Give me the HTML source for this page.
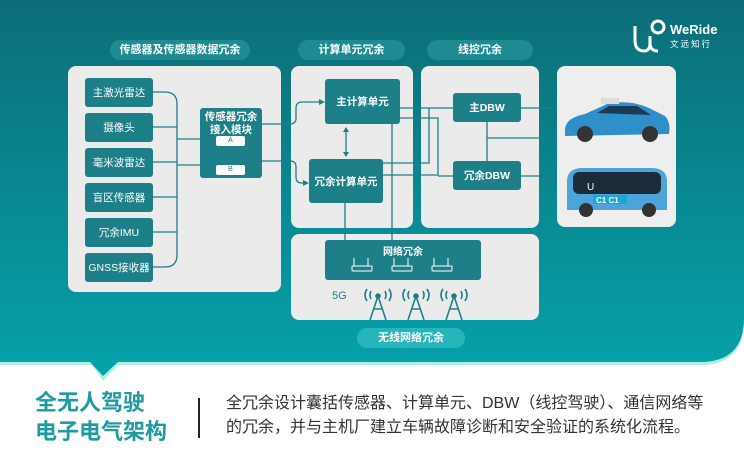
<!DOCTYPE html>
<html><head><meta charset="utf-8"><style>
*{margin:0;padding:0;box-sizing:border-box}
body{width:744px;height:465px;overflow:hidden;background:#fff;font-family:"Liberation Sans","Noto Sans CJK SC",sans-serif;position:relative}
.a{position:absolute}
.pill{position:absolute;height:20px;border-radius:10px;background:#1f8a92;color:#fff;font-size:11px;font-weight:bold;text-align:center;line-height:20px}
.panel{position:absolute;background:#ebebeb;border-radius:8px}
.box{position:absolute;background:#1d7f88;border-radius:3px;color:#fff;font-size:10.5px;display:flex;align-items:center;justify-content:center;text-align:center}
.b{font-weight:bold}
</style></head><body>
<svg class="a" style="left:0;top:0" width="744" height="465">
<defs><linearGradient id="g" x1="0" y1="0" x2="0" y2="1"><stop offset="0" stop-color="#0c6d77"/><stop offset="1" stop-color="#06a2ab"/></linearGradient></defs>
<path d="M0 0H744V318Q744 362 700 362H118L103 378L92 362H0Z" fill="#aef0d8" transform="translate(0,3)"/>
<path d="M0 0H744V318Q744 362 700 362H118L103 376L90 362H0Z" fill="url(#g)"/>
</svg>
<div class="pill" style="left:110px;top:40px;width:140px">传感器及传感器数据冗余</div>
<div class="pill" style="left:298px;top:40px;width:107px">计算单元冗余</div>
<div class="pill" style="left:427px;top:40px;width:106px">线控冗余</div>
<div class="panel" style="left:68px;top:66px;width:213px;height:226px"></div>
<div class="panel" style="left:291px;top:66px;width:122px;height:162px"></div>
<div class="panel" style="left:421px;top:66px;width:118px;height:162px"></div>
<div class="panel" style="left:291px;top:234px;width:248px;height:86px"></div>
<div class="panel" style="left:557px;top:66px;width:119px;height:161px;background:#eeeeee"></div>
<svg class="a" style="left:0;top:0" width="744" height="465" fill="none" stroke="#1d7f88" stroke-width="1.3">
<path d="M153 92H165Q177 92 177 104V255Q177 267 165 267H153"/>
<path d="M153 127H177M153 162H177M153 197H177M153 232H177"/>
<path d="M177 139H200M177 165H200"/>
<path d="M262 124H290Q296 124 296 118V108Q296 102 302 102H322"/>
<path d="M262 161H290Q296 161 296 167V177Q296 183 302 183H306"/>
<path d="M230 146V165"/>
<path d="M346 131V153"/>
<path d="M400 108H453M400 118H438V175H383M383 163H429V108"/>
<path d="M521 108H557M521 176H557M487 122V161M487 138H557M453 176H438"/>
<path d="M345 203V240M392 124V240"/>
</svg>
<svg class="a" style="left:0;top:0" width="744" height="465" fill="#1d7f88">
<path d="M325 102l-6-3v6z"/><path d="M309 183l-6-3v6z"/>
<path d="M346 127l-3 5h6z"/><path d="M346 157l-3-5h6z"/>
</svg>
<div class="box" style="left:85px;top:78px;width:68px;height:29px">主激光雷达</div>
<div class="box" style="left:85px;top:113px;width:68px;height:29px">摄像头</div>
<div class="box" style="left:85px;top:148px;width:68px;height:29px">毫米波雷达</div>
<div class="box" style="left:85px;top:183px;width:68px;height:29px">盲区传感器</div>
<div class="box" style="left:85px;top:218px;width:68px;height:29px">冗余IMU</div>
<div class="box" style="left:85px;top:253px;width:68px;height:29px">GNSS接收器</div>
<div class="box b" style="left:200px;top:108px;width:62px;height:70px;align-items:flex-start;padding-top:3px;line-height:13px">传感器冗余<br>接入模块</div>
<div class="a" style="left:216px;top:136px;width:29px;height:10px;background:#fff;border-radius:2px;font-size:7px;color:#1d7f88;text-align:center;line-height:10px">A</div>
<div class="a" style="left:216px;top:165px;width:29px;height:10px;background:#fff;border-radius:2px;font-size:7px;color:#1d7f88;text-align:center;line-height:10px">B</div>
<div class="box b" style="left:325px;top:79px;width:75px;height:45px">主计算单元</div>
<div class="box b" style="left:309px;top:159px;width:74px;height:44px">冗余计算单元</div>
<div class="box b" style="left:453px;top:93px;width:68px;height:29px">主DBW</div>
<div class="box b" style="left:453px;top:161px;width:68px;height:29px">冗余DBW</div>
<div class="box b" style="left:325px;top:240px;width:156px;height:40px;align-items:flex-start;padding-top:3px;font-size:10px">网络冗余</div>
<svg class="a" style="left:350px;top:258px" width="110" height="20" fill="none" stroke="#fff" stroke-width="1">
<g><path d="M4 0V8M18 0V8"/><rect x="2" y="8" width="20" height="5" rx="1"/></g>
<g transform="translate(40,0)"><path d="M4 0V8M18 0V8"/><rect x="2" y="8" width="20" height="5" rx="1"/></g>
<g transform="translate(80,0)"><path d="M4 0V8M18 0V8"/><rect x="2" y="8" width="20" height="5" rx="1"/></g>
</svg>
<div class="a" style="left:332px;top:290px;font-size:11px;color:#1d7f88">5G</div>
<svg class="a" style="left:360px;top:287px" width="120" height="34" fill="none" stroke="#1d7f88" stroke-width="1.6">
<g><path d="M7 2Q3 8 7 14M11 4Q9 8 11 12M29 2Q33 8 29 14M25 4Q27 8 25 12"/><circle cx="18" cy="9" r="2" fill="#1d7f88"/><path d="M18 9L10 33M18 9L26 33M14 22H22"/></g>
<g transform="translate(38,0)"><path d="M7 2Q3 8 7 14M11 4Q9 8 11 12M29 2Q33 8 29 14M25 4Q27 8 25 12"/><circle cx="18" cy="9" r="2" fill="#1d7f88"/><path d="M18 9L10 33M18 9L26 33M14 22H22"/></g>
<g transform="translate(76,0)"><path d="M7 2Q3 8 7 14M11 4Q9 8 11 12M29 2Q33 8 29 14M25 4Q27 8 25 12"/><circle cx="18" cy="9" r="2" fill="#1d7f88"/><path d="M18 9L10 33M18 9L26 33M14 22H22"/></g>
</svg>
<div class="pill" style="left:357px;top:328px;width:108px;background:#27b5bc">无线网络冗余</div>
<!-- cars -->
<svg class="a" style="left:557px;top:66px" width="119" height="161">
<path d="M8 64Q8 52 28 48L50 38Q72 33 92 42L108 50Q114 56 112 68L8 70Z" fill="#2f8fc9"/>
<path d="M40 47L52 40H80L94 49Z" fill="#1c3a55"/>
<path d="M44 32H62V38H44Z" fill="#ddd"/>
<circle cx="28" cy="68" r="8" fill="#333"/><circle cx="93" cy="68" r="8" fill="#333"/>
<path d="M10 115Q10 103 24 102H96Q110 103 110 115V144H10Z" fill="#4da4d8"/>
<rect x="16" y="106" width="88" height="22" rx="6" fill="#1b2b3a"/>
<text x="30" y="124" fill="#fff" font-size="10" font-family="Liberation Sans">U</text>
<rect x="36" y="129" width="34" height="9" fill="#1aa7d0"/>
<text x="39" y="137" fill="#fff" font-size="8" font-weight="bold" font-family="Liberation Sans">C1 C1</text>
<circle cx="29" cy="144" r="7" fill="#333"/><circle cx="92" cy="144" r="7" fill="#333"/>
</svg>
<!-- logo -->
<svg class="a" style="left:632px;top:18px" width="36" height="36" fill="none" stroke="#fff" stroke-width="3">
<path d="M3 8V22Q3 33 12 33Q18 33 18 25V18M18 25Q18 33 26 33"/><circle cx="26" cy="9" r="6"/>
</svg>
<div class="a" style="left:670px;top:22px;color:#fff;font-size:13px;font-weight:bold">WeRide</div>
<div class="a" style="left:670px;top:38px;color:#fff;font-size:8.5px;letter-spacing:2px">文远知行</div>
<!-- bottom -->
<div class="a" style="left:35px;top:388px;color:#1d9aa2;font-size:22px;font-weight:bold;line-height:29px">全无人驾驶<br>电子电气架构</div>
<div class="a" style="left:198px;top:398px;width:1.5px;height:40px;background:#222"></div>
<div class="a" style="left:226px;top:392px;color:#333;font-size:16px;line-height:24px;white-space:nowrap">全冗余设计囊括传感器、计算单元、DBW（线控驾驶）、通信网络等<br>的冗余，并与主机厂建立车辆故障诊断和安全验证的系统化流程。</div>
</body></html>
